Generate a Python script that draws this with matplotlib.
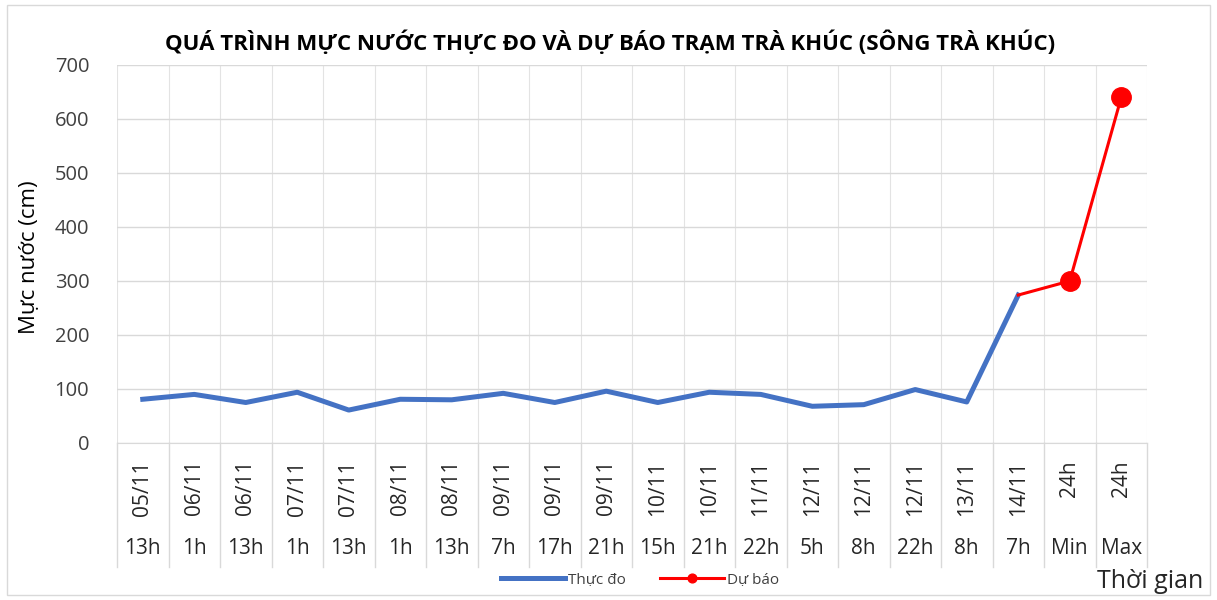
import numpy as np
import matplotlib
matplotlib.use("Agg")
import matplotlib.pyplot as plt
from matplotlib.patches import Rectangle
import matplotlib.transforms as mtransforms

plt.rcParams['font.family'] = ['Open Sans', 'DejaVu Sans']

dates = ["05/11", "06/11", "06/11", "07/11", "07/11", "08/11", "08/11", "09/11", "09/11", "09/11",
         "10/11", "10/11", "11/11", "12/11", "12/11", "12/11", "13/11", "14/11", "24h", "24h"]
hours = ["13h", "1h", "13h", "1h", "13h", "1h", "13h", "7h", "17h", "21h",
         "15h", "21h", "22h", "5h", "8h", "22h", "8h", "7h", "Min", "Max"]
observed = [81, 90, 75, 94, 61, 81, 80, 92, 75, 96, 75, 94, 90, 68, 71, 99, 76, 274,
            np.nan, np.nan]
forecast = [np.nan] * 17 + [274, 300, 640]

title = "QUÁ TRÌNH MỰC NƯỚC THỰC ĐO VÀ DỰ BÁO TRẠM TRÀ KHÚC (SÔNG TRÀ KHÚC)"
ylabel = "Mực nước (cm)"
xlabel = "Thời gian"
yticks = [0, 100, 200, 300, 400, 500, 600, 700]

W, H = 1217, 600
fig = plt.figure(figsize=(W / 100, H / 100), dpi=100)
fig.patch.set_facecolor("white")
fig.add_artist(Rectangle((7 / W, 5 / H), 1 - 14 / W, 1 - 10 / H, transform=fig.transFigure,
                         fill=False, edgecolor="#D9D9D9", lw=1))

left, right, top, bottom = 117, 1147, 65, 443
ax = fig.add_axes([left / W, 1 - bottom / H, (right - left) / W, (bottom - top) / H])

x = np.arange(len(hours))
ax.plot(x, observed, color="#4472C4", lw=3.6, solid_joinstyle="round", zorder=3, label="Thực đo")
ax.plot(x, forecast, color="#FF0000", lw=2.2, marker="o", markersize=14, markevery=[18, 19],
        zorder=4, label="Dự báo")

ax.set_xlim(-0.5, len(hours) - 0.5)
ax.set_ylim(0, 700)
ax.set_yticks(yticks)
ax.set_yticklabels([str(v) for v in yticks], fontsize=14.5, color="#404040")
ax.tick_params(axis="y", length=0, pad=20)
ax.set_xticks(x)
ax.set_xticklabels([])
ax.set_xticks(np.arange(-0.5, len(hours), 0.5), minor=True)
ax.tick_params(axis="x", which="both", length=0)
ax.grid(axis="y", color="#D9D9D9", lw=1)
ax.grid(axis="x", which="minor", color="#E3E3E3", lw=0.8)
ax.set_axisbelow(True)
for s in ["top", "right", "left"]:
    ax.spines[s].set_visible(False)
ax.spines["bottom"].set_color("#D9D9D9")

trans = mtransforms.blended_transform_factory(ax.transData, ax.transAxes)
px = 1 / (bottom - top)
sep_bottom = -(567 - bottom) * px
for i in range(len(hours) + 1):
    ax.plot([i - 0.5, i - 0.5], [0, sep_bottom], transform=trans, color="#D9D9D9", lw=1,
            clip_on=False)
for i, (d, h) in enumerate(zip(dates, hours)):
    ax.text(i, -(460 - bottom) * px, d, transform=trans, rotation=90, ha="center", va="top",
            fontsize=15, color="#262626")
    ax.text(i, -(549 - bottom) * px, h, transform=trans, ha="center", va="center",
            fontsize=15, color="#262626")

fig.text(610 / W, 1 - 43 / H, title, ha="center", va="center", fontsize=16,
         fontweight="bold", color="#000000")
fig.text(30 / W, 1 - 257 / H, ylabel, rotation=90, ha="center", va="center", fontsize=16,
         color="#000000")
fig.text(1150 / W, 1 - 582 / H, xlabel, ha="center", va="center", fontsize=18, color="#262626")

fig.legend(loc="center", bbox_to_anchor=(640 / W, 1 - 580 / H), ncol=2, frameon=False,
           fontsize=11, handlelength=4.2, columnspacing=2.2, handletextpad=0.2,
           labelcolor="#404040", markerscale=0.45)

fig.savefig("out.png", dpi=100, facecolor="white")
